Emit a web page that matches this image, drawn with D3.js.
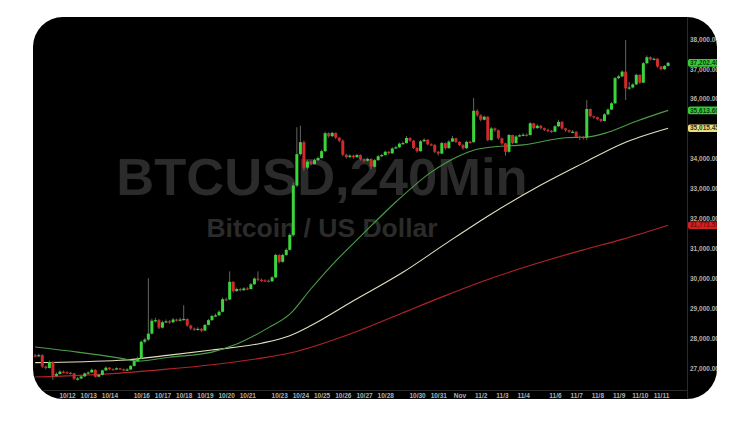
<!DOCTYPE html>
<html><head><meta charset="utf-8">
<script src="https://cdn.jsdelivr.net/npm/d3@7"></script>
<style>body{margin:0;background:#fff;}svg{display:block;}</style>
</head><body>
<svg id="c" width="750" height="429"></svg>
<script>
// ---- data (4-hour BTCUSD candles, 10/11 – 11/11) ----
const firstOpen = 27420;
const closes = [
27400,27430,27050,27000,27200,26740,26800,26880,26860,
26840,26820,26640,26650,26720,26820,
26850,26940,26710,26770,26920,27010,
26960,26950,26990,26960,26930,26950,
27070,27230,27320,
27880,27950,28150,28580,28600,28350,
28530,28560,28530,28620,28600,28620,
28640,28420,28320,28290,28310,28250,
28440,28600,28740,28760,28880,29300,
29290,29880,29570,29640,29600,29660,
29640,29800,29990,29950,29930,29920,
29900,30030,30780,
30550,30780,30950,31450,33100,34150,
34550,33700,33900,33820,33950,34020,
34250,34850,34750,34860,34700,34600,
34130,34050,34100,34050,34120,33980,
33930,33990,33730,33950,34080,34120,
34230,34180,34340,
34380,34500,34520,34690,34600,34360,
34250,34580,34630,34480,34460,34230,
34170,34520,34350,34570,34680,34560,
34460,34350,34560,34550,35600,35450,
35300,35400,34620,35010,34950,34680,
34510,34230,34790,34520,34740,34780,
34800,34790,35180,
35020,35100,35020,34960,34930,34900,
35080,35230,35010,34950,34900,34900,
34730,34720,34700,35660,35420,35380,
35320,35260,35480,35640,35850,36690,
36750,36910,36350,36380,36480,36800,
36540,37190,37390,37320,37340,37080,
36990,37100,37202.4];
const highs = [
27470,27480,27460,27080,27250,27220,26850,26920,26910,
26890,26870,26840,26700,26750,26850,
26890,26980,26960,26800,26950,27050,
27030,26990,27020,27000,26980,26990,
27100,27260,27380,
27920,28000,30000,28650,28680,28640,
28580,28620,28600,28670,28650,28680,
29100,28660,28450,28350,28360,28330,
28480,28640,28780,28820,28930,29350,
29350,30230,29900,29690,29680,29700,
29700,29840,30030,30230,29990,29970,
29960,30070,30820,
30800,30820,31000,31500,33200,35050,
35100,34600,33950,33940,34000,34070,
34300,34900,34880,34900,34880,34720,
34640,34160,34150,34130,34160,34140,
34000,34030,34010,33990,34120,34160,
34270,34250,34380,
34430,34540,34580,34760,34710,34620,
34380,34620,34680,34650,34510,34480,
34260,34560,34540,34620,34760,34700,
34580,34480,34600,34600,36030,35650,
35480,35440,35420,35060,35040,34970,
34700,34530,34830,34800,34780,34820,
34850,34840,35220,
35200,35150,35120,35040,35000,34960,
35120,35300,35250,35030,34970,34950,
34920,34770,34760,35960,35680,35440,
35400,35340,35520,35680,35890,36730,
36800,36950,37970,36560,36520,36840,
36820,37230,37450,37420,37380,37360,
37100,37130,37240];
const lows = [
27350,27370,27000,26950,26980,26600,26700,26780,26820,
26800,26780,26600,26580,26630,26700,
26800,26840,26680,26690,26750,26900,
26930,26920,26930,26930,26900,26900,
26930,27050,27200,
27300,27820,27900,28120,28520,28300,
28320,28500,28480,28500,28550,28560,
28580,28380,28270,28240,28250,28200,
28230,28420,28580,28700,28740,28860,
29230,29270,29520,29550,29560,29580,
29600,29620,29780,29900,29880,29880,
29860,29880,30000,
30500,30520,30750,30930,31420,33050,
34100,33600,33650,33770,33800,33920,
33990,34220,34700,34720,34650,34550,
34080,34000,34020,34000,34020,33940,
33880,33900,33650,33700,33920,34050,
34100,34140,34160,
34320,34350,34470,34500,34560,34320,
34200,34230,34560,34440,34420,34180,
34100,34150,34300,34330,34550,34520,
34420,34300,34320,34500,34530,35400,
35250,35280,34580,34600,34900,34640,
34460,34100,34200,34480,34500,34720,
34750,34740,34770,
34980,35000,34980,34920,34880,34860,
34880,35060,34970,34900,34860,34850,
34690,34620,34640,34620,35380,35330,
35280,35220,35240,35460,35620,35830,
36650,36720,35960,36300,36350,36460,
36500,36520,37160,37280,37290,37040,
36950,36970,37080];

// date labels and the bar each day starts on
const dayLabels = ["10/12","10/13","10/14","10/16","10/17","10/18","10/19","10/20","10/21",
  "10/23","10/24","10/25","10/26","10/27","10/28","10/30","10/31","Nov",
  "11/2","11/3","11/4","11/6","11/7","11/8","11/9","11/10","11/11"];
const dayLabelBars = [9,15,21,30,36,42,48,54,60,69,75,81,87,93,99,108,114,120,
  126,132,138,147,153,159,165,171,177];

// price axis ticks
const priceTicks = [27000,28000,29000,30000,31000,32000,33000,34000,35000,36000,37000,38000];

// moving averages, read at sampled bars
const maFastBars = [0,12,24,29,38,50,57,66,72,78,84,92,102,112,120,124,130,138,150,156,162,170,179];
const maFast     = [27700,27530,27330,27230,27360,27530,27800,28350,28800,29650,30450,31400,32550,33550,34100,34280,34400,34460,34700,34720,34880,35250,35613.6];
const maMidBars  = [0,24,38,50,64,72,78,90,104,116,129,142,155,166,179];
const maMid      = [27180,27260,27430,27600,27830,28080,28420,29250,30200,31150,32150,33050,33850,34500,35015.45];
const maSlowBars = [0,24,38,50,64,72,90,103,116,129,142,155,166,179];
const maSlow     = [26700,26830,26970,27110,27330,27500,28180,28800,29420,30000,30500,30950,31300,31771.59];

// ---- drawing ----
const svg = d3.select("#c");
const font = "'Liberation Sans', Arial, sans-serif";
const P = {x:33, y:17, w:684, h:382, r:30};

svg.append("defs").append("clipPath").attr("id","panel")
  .append("rect").attr("x",P.x).attr("y",P.y).attr("width",P.w).attr("height",P.h)
  .attr("rx",P.r).attr("ry",P.r);

const g = svg.append("g").attr("clip-path","url(#panel)");
g.append("rect").attr("x",P.x).attr("y",P.y).attr("width",P.w).attr("height",P.h).attr("fill","#000");

const n = closes.length;
const x = d3.scaleLinear().domain([0, n-1]).range([35.2, 668.1]);
const y = d3.scaleLinear().domain([27000, 38000]).range([368, 39]);

// watermark
g.append("text").attr("x",322).attr("y",195).attr("text-anchor","middle")
  .attr("font-family",font).attr("font-weight","bold").attr("font-size",52.5)
  .attr("fill","#2b2b2b").text("BTCUSD,240Min");
g.append("text").attr("x",322).attr("y",237).attr("text-anchor","middle")
  .attr("font-family",font).attr("font-weight","bold").attr("font-size",26.5)
  .attr("fill","#2b2b2b").text("Bitcoin / US Dollar");

// frame lines
g.append("line").attr("x1",687.5).attr("x2",687.5).attr("y1",P.y).attr("y2",P.y+P.h).attr("stroke","#2a2a2a");
g.append("line").attr("x1",P.x).attr("x2",687.5).attr("y1",390.5).attr("y2",390.5).attr("stroke","#2a2a2a");

// moving averages
const line = d3.line().x(d=>x(d[0])).y(d=>y(d[1])).curve(d3.curveMonotoneX);
const mas = [
  {bars:maSlowBars, vals:maSlow, color:"#b3232a"},
  {bars:maMidBars,  vals:maMid,  color:"#e4dfbf"},
  {bars:maFastBars, vals:maFast, color:"#4c9e46"}
];
mas.forEach(m=>{
  g.append("path").datum(m.bars.map((b,i)=>[b,m.vals[i]]))
    .attr("d",line).attr("fill","none").attr("stroke",m.color).attr("stroke-width",1.1);
});

// candles
const candles = closes.map((c,i)=>({i, o: i===0?firstOpen:closes[i-1], c, h:highs[i], l:lows[i]}));
const up = "#3bd43b", dn = "#d02a2a";
const cg = g.append("g");
cg.selectAll("line.w").data(candles).join("line")
  .attr("x1",d=>x(d.i)).attr("x2",d=>x(d.i))
  .attr("y1",d=>y(d.h)).attr("y2",d=>y(d.l))
  .attr("stroke","#7d7d7d").attr("stroke-width",0.8);
cg.selectAll("rect.b").data(candles).join("rect")
  .attr("x",d=>x(d.i)-1.5).attr("width",3)
  .attr("y",d=>y(Math.max(d.o,d.c)))
  .attr("height",d=>Math.max(1.2,Math.abs(y(d.o)-y(d.c))))
  .attr("fill",d=>d.c>=d.o?up:dn);

// price axis
const ya = d3.axisRight(y).tickValues(priceTicks).tickFormat(d3.format(",.2f")).tickSize(0).tickPadding(0);
const yg = g.append("g").attr("transform","translate(690,0)").call(ya);
yg.select(".domain").remove();
yg.selectAll("text").attr("font-family",font).attr("font-weight","bold")
  .attr("font-size",6.5).attr("fill","#b0b0b0");

// date axis
const xa = d3.axisBottom(x).tickValues(dayLabelBars).tickFormat((d,i)=>dayLabels[i]).tickSize(0).tickPadding(3);
const xg = g.append("g").attr("transform","translate(0,390)").call(xa);
xg.select(".domain").remove();
xg.selectAll("text").attr("font-family",font).attr("font-weight","bold")
  .attr("font-size",6.5).attr("fill","#b0b0b0");

// last-value tags
const tags = [
  {v:closes[n-1], fill:"#35cf35", text:"#0d3b0d"},
  {v:maFast[maFast.length-1], fill:"#35cf35", text:"#0d3b0d"},
  {v:maMid[maMid.length-1], fill:"#e9e27a", text:"#333"},
  {v:maSlow[maSlow.length-1], fill:"#d42020", text:"#7a0d0d"}
];
const fmt = d3.format(",.2f");
tags.forEach(t=>{
  g.append("rect").attr("x",688).attr("y",y(t.v)-3.8).attr("width",40).attr("height",7.6)
    .attr("rx",2).attr("fill",t.fill);
  g.append("text").attr("x",690).attr("y",y(t.v)).attr("dy","0.34em")
    .attr("font-family",font).attr("font-weight","bold").attr("font-size",6.5)
    .attr("fill",t.text).text(fmt(t.v));
});
</script>
</body></html>
